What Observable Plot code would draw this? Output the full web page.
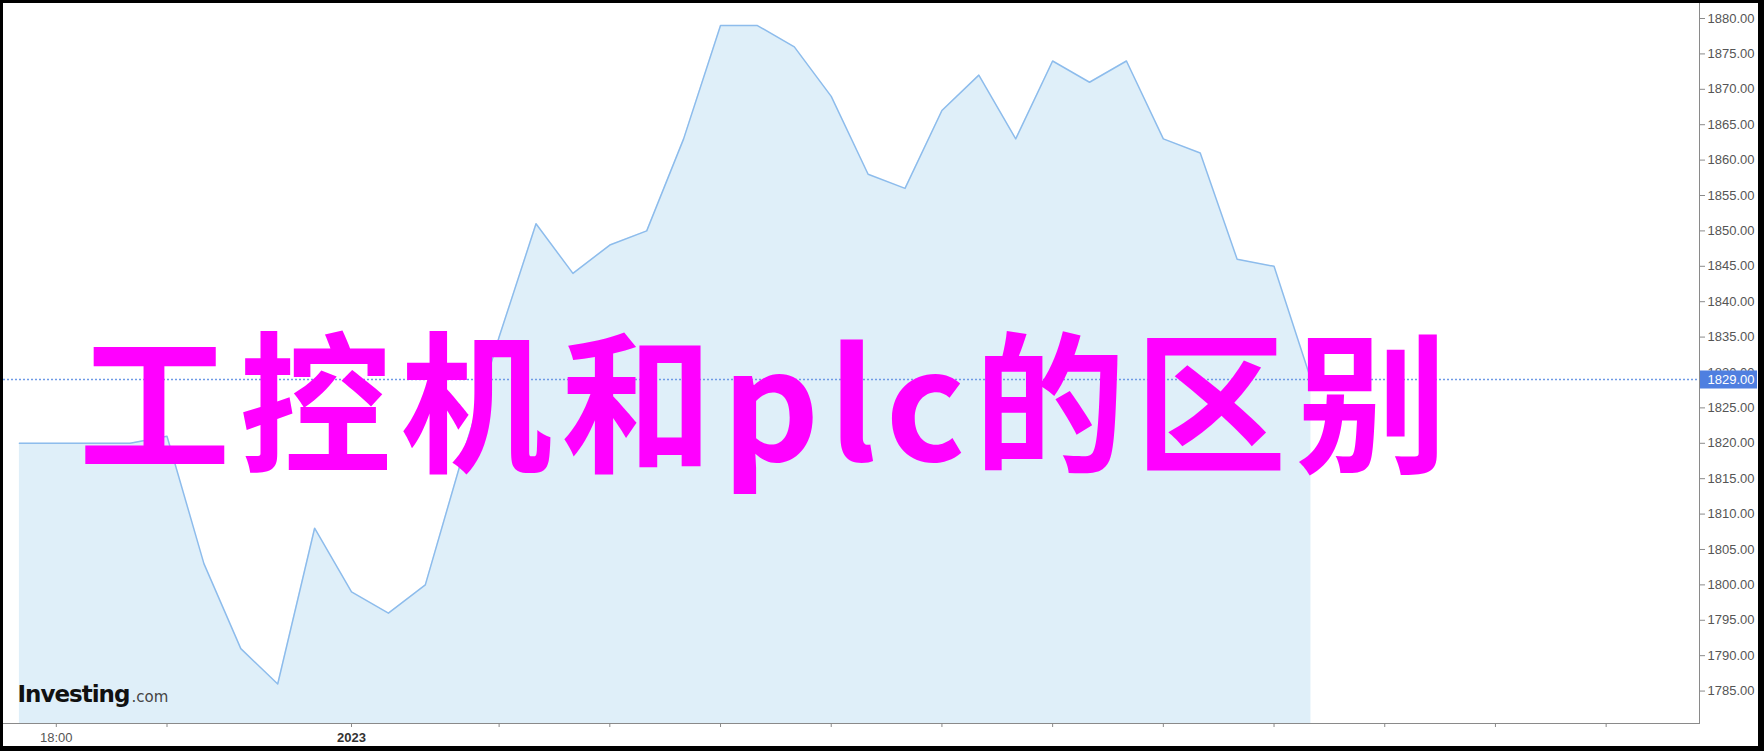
<!DOCTYPE html>
<html>
<head>
<meta charset="utf-8">
<script src="https://cdn.jsdelivr.net/npm/d3@7"></script>
<script src="https://cdn.jsdelivr.net/npm/@observablehq/plot@0.6"></script>
<style>
  html, body { margin: 0; padding: 0; background: #000; overflow: hidden; }
  #wrap { position: absolute; left: 3px; top: 3px; width: 1755px; height: 743px; background: #fff; overflow: hidden; }
</style>
</head>
<body>
<div id="wrap"></div>
<script>
// Hour index of each price point (point 0 = the first bump after the flat stretch)
const hours = [-4, -3, -2, -1, 0, 1, 2, 3, 4, 5, 6, 7, 8, 9, 10, 11, 12, 13, 14, 15,
               16, 17, 18, 19, 20, 21, 22, 23, 24, 25, 26, 27, 28, 29, 30, 31];
// Price values
const prices = [1820, 1820, 1820, 1820, 1821, 1803, 1791, 1786, 1808, 1799, 1796, 1800,
                1818, 1835, 1851, 1844, 1848, 1850, 1863, 1879, 1879, 1876, 1869, 1858,
                1856, 1867, 1872, 1863, 1874, 1871, 1874, 1863, 1861, 1846, 1845, 1829];
const lastPrice = 1829;
// Axis ticks
const xTickHours = [-3, 0, 5, 9, 12, 15, 18, 21, 24, 27, 30, 33, 36, 39];
const xTickLabels = ["18:00", "", "2023", "", "", "", "", "", "", "", "", "", "", ""];
const yTicks = [1785, 1790, 1795, 1800, 1805, 1810, 1815, 1820, 1825, 1830, 1835, 1840,
                1845, 1850, 1855, 1860, 1865, 1870, 1875, 1880];
const titleText = "工控机和plc的区别";
const logoMain = "Investing";
const logoSuffix = ".com";

const rows = hours.map((k, i) => ({k, v: prices[i]}));
const yDomain = [1780.42, 1882.12];
const xDomain = [-4.431, 41.53];

const chart = Plot.plot({
  width: 1755,
  height: 743,
  marginLeft: 0,
  marginRight: 59,
  marginTop: 0,
  marginBottom: 23,
  style: {fontFamily: "'Liberation Sans', Arial, sans-serif", fontSize: "13px", color: "#8a8a8a", background: "#fff", overflow: "visible"},
  x: {domain: xDomain, axis: "bottom", ticks: xTickHours,
      tickFormat: d => xTickLabels[xTickHours.indexOf(d)], tickSize: 4, tickPadding: 5, line: true, label: null},
  y: {domain: yDomain, axis: "right", ticks: yTicks, tickFormat: d => d.toFixed(2),
      tickSize: 5, tickPadding: 3, line: true, label: null},
  marks: [
    Plot.areaY(rows, {x: "k", y1: yDomain[0], y2: "v", fill: "#dfeff9"}),
    Plot.line(rows, {x: "k", y: "v", stroke: "#8dbcec", strokeWidth: 1.5}),
    Plot.ruleY([lastPrice], {stroke: "#6f9be6", strokeWidth: 1.5, strokeDasharray: "2,2"}),
    Plot.text([logoMain], {text: d => d, frameAnchor: "bottom-left", textAnchor: "start", lineAnchor: "bottom",
      dx: 14, dy: -22, fontFamily: "'DejaVu Sans', sans-serif", fontWeight: "bold", fontSize: 23, fill: "#111"}),
    Plot.text([logoSuffix], {text: d => d, frameAnchor: "bottom-left", textAnchor: "start", lineAnchor: "bottom",
      dx: 128, dy: -22, fontFamily: "'DejaVu Sans', sans-serif", fontSize: 15, fill: "#444"}),
    Plot.ruleY([lastPrice], {stroke: "#4f7fe0", strokeWidth: 18, insetLeft: 1697, insetRight: -58}),
    Plot.text([lastPrice], {y: d => d, text: d => d.toFixed(2), frameAnchor: "right", textAnchor: "start",
      dx: 8, fill: "#fff", fontSize: 13}),
    Plot.text([titleText], {text: d => d, frameAnchor: "top-left", textAnchor: "middle", lineAnchor: "bottom",
      dx: 764, dy: 457, fontFamily: "'Noto Sans CJK SC', sans-serif", fontWeight: "bold", fontSize: 152, fill: "#ff00ff"})
  ]
});

const svg = d3.select(chart);
svg.selectAll("g[aria-label='x-axis'] text, g[aria-label='y-axis'] text, g[aria-label='x-axis tick label'] text, g[aria-label='y-axis tick label'] text")
  .attr("fill", "#555");
svg.selectAll("text").filter(function() { return this.textContent === "2023"; })
  .attr("font-weight", "bold").attr("fill", "#333");
svg.selectAll("text").filter(function() { return this.textContent === titleText; })
  .attr("letter-spacing", "8.8px");
svg.selectAll("text").filter(function() { return this.textContent === logoMain; })
  .attr("letter-spacing", "-1px");
document.getElementById("wrap").appendChild(chart);
</script>
</body>
</html>
